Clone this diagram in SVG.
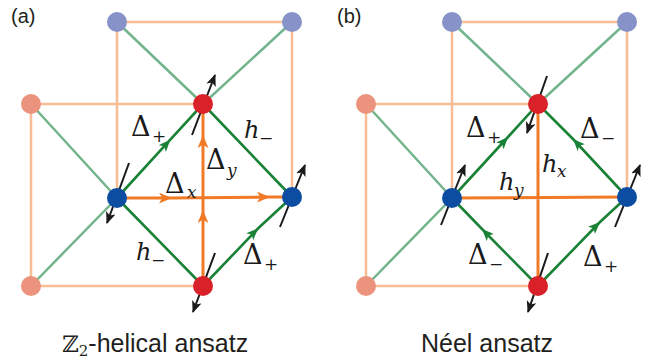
<svg xmlns="http://www.w3.org/2000/svg" width="668" height="362" viewBox="0 0 668 362">
<style>
.lo{stroke:#f8bd94;stroke-width:2.5;fill:none}
.lg{stroke:#72b48b;stroke-width:2.5;fill:none}
.dg{stroke:#1a8236;stroke-width:2.6;fill:none}
.do{stroke:#f07a26;stroke-width:3;fill:none}
.spin{stroke:#1a1a1a;stroke-width:2;fill:none;marker-end:url(#ah)}
.lb{fill:#8792c8}.sa{fill:#eb937c}.rd{fill:#d92129}.bl{fill:#0d4da1}
.m{font-family:"DejaVu Serif","Liberation Serif",serif;font-size:27px;fill:#1a1a1a}
.mi{font-family:"DejaVu Serif","Liberation Serif",serif;font-style:italic;font-size:24px;fill:#1a1a1a}
.s{font-family:"DejaVu Serif","Liberation Serif",serif;font-size:17px;fill:#1a1a1a}
.si{font-family:"DejaVu Serif","Liberation Serif",serif;font-style:italic;font-size:17px;fill:#1a1a1a}
.cap{font-family:"Liberation Sans","Open Sans",sans-serif;font-size:25px;fill:#231f20}
.pl{font-family:"Liberation Sans","Open Sans",sans-serif;font-size:20px;fill:#231f20}
</style>
<defs>
<marker id="ah" markerUnits="userSpaceOnUse" viewBox="0 0 12 10" markerWidth="12" markerHeight="10" refX="11" refY="5" orient="auto">
<path d="M0,0 L12,5 L0,10 L3,5 z" fill="#1a1a1a"/>
</marker>
<marker id="ag" markerUnits="userSpaceOnUse" viewBox="0 0 12 10" markerWidth="12" markerHeight="10" refX="12" refY="5" orient="auto">
<path d="M0,0 L12,5 L0,10 L3,5 z" fill="#1a8236"/>
</marker>
<marker id="ao" markerUnits="userSpaceOnUse" viewBox="0 0 12 10" markerWidth="13" markerHeight="11" refX="12" refY="5" orient="auto">
<path d="M0,0 L12,5 L0,10 L3,5 z" fill="#f07a26"/>
</marker>
</defs>

<text class="pl" x="11" y="23">(a)</text>
<text class="pl" x="337" y="23">(b)</text>

<g id="connectors-a">
<path class="lo" d="M117,22 H292 M117,22 V198 M292,22 V197 M31,104 H203 M31,104 V286 M31,286 H203"/>
<path class="lg" d="M117,22 L203,104 M292,22 L203,104 M31,104 L117,198 M117,198 L31,286"/>
<path class="dg" d="M117,198 L203,286 M203,104 L292,197"/>
<path class="dg" d="M117,198 L170.3,139.7 L203,104" marker-mid="url(#ag)"/>
<path class="dg" d="M203,286 L258.2,228.3 L292,197" marker-mid="url(#ag)"/>
<path class="do" d="M117,198 L172,198 L270,197 L292,197" marker-mid="url(#ao)"/>
<path class="do" d="M203,286 L203,210 L203,135 L203,104" marker-mid="url(#ao)"/>
<path class="spin" d="M192,135 L215,75"/>
<path class="spin" d="M129,163 L107,223"/>
<path class="spin" d="M280,227 L305,165"/>
<path class="spin" d="M215,253 L193,312"/>
</g>

<g id="connectors-b">
<path class="lo" d="M452,22 H627 M452,22 V198 M627,22 V197 M366,104 H538 M366,104 V286 M366,286 H538"/>
<path class="lg" d="M452,22 L538,104 M627,22 L538,104 M366,104 L452,198 M452,198 L366,286"/>
<path class="do" d="M452,198 L627,197 M538,104 L538,286"/>
<path class="dg" d="M452,198 L508,137 L538,104" marker-mid="url(#ag)"/>
<path class="dg" d="M627,197 L573,139 L538,104" marker-mid="url(#ag)"/>
<path class="dg" d="M538,286 L482,229 L452,198" marker-mid="url(#ag)"/>
<path class="dg" d="M538,286 L600,222 L627,197" marker-mid="url(#ag)"/>
<path class="spin" d="M547,76 L527,133"/>
<path class="spin" d="M441,225 L465,165"/>
<path class="spin" d="M615,227 L640,165"/>
<path class="spin" d="M548,253 L528,312"/>
</g>

<g id="nodes-a">
<g id="a-lb1"><circle class="lb" cx="117" cy="22" r="10"/></g>
<g id="a-lb2"><circle class="lb" cx="292" cy="22" r="10"/></g>
<g id="a-sa1"><circle class="sa" cx="31" cy="104" r="10"/></g>
<g id="a-sa2"><circle class="sa" cx="31" cy="286" r="10"/></g>
<g id="a-rd1"><circle class="rd" cx="203" cy="104" r="10"/></g>
<g id="a-rd2"><circle class="rd" cx="203" cy="286" r="10"/></g>
<g id="a-bl1"><circle class="bl" cx="117" cy="198" r="10"/></g>
<g id="a-bl2"><circle class="bl" cx="292" cy="197" r="10"/></g>
</g>

<g id="nodes-b">
<g id="b-lb1"><circle class="lb" cx="452" cy="22" r="10"/></g>
<g id="b-lb2"><circle class="lb" cx="627" cy="22" r="10"/></g>
<g id="b-sa1"><circle class="sa" cx="366" cy="104" r="10"/></g>
<g id="b-sa2"><circle class="sa" cx="366" cy="286" r="10"/></g>
<g id="b-rd1"><circle class="rd" cx="538" cy="104" r="10"/></g>
<g id="b-rd2"><circle class="rd" cx="538" cy="286" r="10"/></g>
<g id="b-bl1"><circle class="bl" cx="452" cy="198" r="10"/></g>
<g id="b-bl2"><circle class="bl" cx="627" cy="197" r="10"/></g>
</g>

<g id="labels-a">
<text class="m" x="131" y="136">Δ</text><text class="s" x="152" y="142">+</text>
<text class="mi" x="244" y="138">h</text><text class="s" x="259" y="144">−</text>
<text class="m" x="206" y="169">Δ</text><text class="si" x="227" y="176">y</text>
<text class="m" x="165" y="193">Δ</text><text class="si" x="187" y="198">x</text>
<text class="mi" x="136" y="260">h</text><text class="s" x="151" y="266">−</text>
<text class="m" x="243" y="264">Δ</text><text class="s" x="264" y="270">+</text>
</g>

<g id="labels-b">
<text class="m" x="466" y="137">Δ</text><text class="s" x="487" y="143">+</text>
<text class="m" x="580" y="138">Δ</text><text class="s" x="601" y="144">−</text>
<text class="mi" x="542" y="172">h</text><text class="si" x="557" y="177">x</text>
<text class="mi" x="499" y="190">h</text><text class="si" x="514" y="196">y</text>
<text class="m" x="468" y="264">Δ</text><text class="s" x="489" y="270">−</text>
<text class="m" x="583" y="266">Δ</text><text class="s" x="604" y="272">+</text>
</g>

<text class="cap" x="62" y="352"><tspan font-family="DejaVu Serif, serif" font-size="23">ℤ</tspan><tspan font-family="DejaVu Serif, serif" font-size="15" dy="4">2</tspan><tspan dy="-4">-helical ansatz</tspan></text>
<text class="cap" x="421" y="352">Néel ansatz</text>
</svg>
